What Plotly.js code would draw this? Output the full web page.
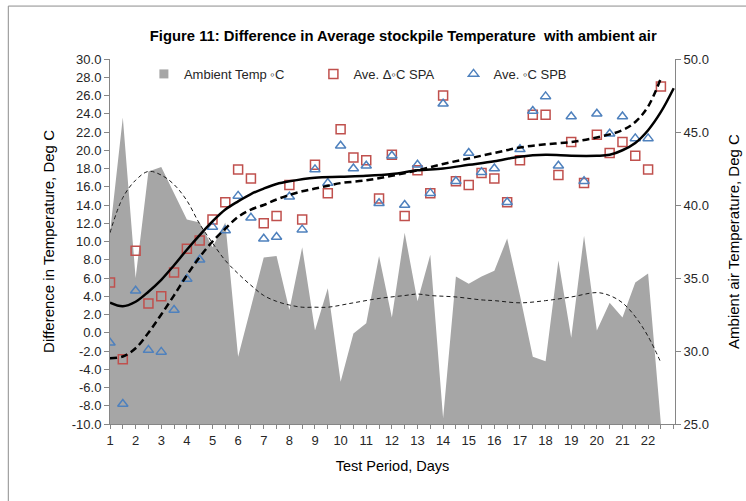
<!DOCTYPE html>
<html><head><meta charset="utf-8">
<script src="https://cdn.plot.ly/plotly-3.0.1.min.js"></script>
<style>html,body{margin:0;padding:0;background:#fff}#chart{width:746px;height:501px}</style>
</head><body><div id="chart"></div>
<script>
const days = [1,1.5,2,2.5,3,3.5,4,4.5,5,5.5,6,6.5,7,7.5,8,8.5,9,9.5,10,10.5,11,11.5,12,12.5,13,13.5,14,14.5,15,15.5,16,16.5,17,17.5,18,18.5,19,19.5,20,20.5,21,21.5,22,22.5];
const ambientTemp = [38.1,46.0,35.0,42.3,42.6,40.8,39.0,38.8,37.1,38.8,29.6,33.0,36.4,36.5,32.8,37.1,31.4,34.3,27.9,31.2,31.9,36.5,32.3,38.1,33.4,36.6,25.4,35.1,34.6,35.1,35.5,37.7,33.8,29.6,29.3,36.2,30.9,37.9,31.4,33.3,32.3,34.7,35.3,25.0];
const spa = [5.5,-2.9,9.0,3.2,4.0,6.6,9.2,10.1,12.4,14.3,17.9,16.9,12.0,12.8,16.2,12.4,18.4,15.3,22.3,19.2,18.9,14.7,19.5,12.8,17.8,15.3,26.0,16.6,16.2,17.5,16.9,14.3,18.9,23.9,23.9,17.3,20.9,16.4,21.7,19.7,20.9,19.4,17.9,27.0];
const spb = [-1.1,-7.8,4.6,-1.9,-2.1,2.5,5.9,8.0,11.6,11.2,15.0,12.6,10.3,10.5,14.9,11.3,17.9,16.4,20.5,18.0,18.3,14.2,19.4,14.0,18.4,15.3,25.1,16.6,19.7,17.6,18.0,14.3,20.1,24.3,25.9,18.3,23.7,16.6,24.0,21.8,23.7,21.3,21.3,null];

// trendlines
const trendSpaX = [1,1.5,2,2.5,3,3.5,4,4.5,5,5.5,6,6.5,7,7.5,8,9,10,11,12,13,14,15,16,17,18,19,20,20.5,21,21.5,22,22.5,23];
const trendSpaY = [3.3,2.9,3.4,4.5,5.8,7.4,9.1,10.7,12.2,13.5,14.4,15.2,15.8,16.3,16.6,17.0,17.1,17.2,17.4,17.8,18.0,18.4,18.8,19.3,19.5,19.4,19.4,19.5,20.0,20.8,22.2,24.2,26.8];
const trendSpbX = [1,1.5,2,2.5,3,3.5,4,4.5,5,5.5,6,6.5,7,7.5,8,8.5,9,9.5,10,11,12,13,14,15,16,17,18,19,20,21,21.5,22,22.5];
const trendSpbY = [-2.8,-2.6,-1.7,0.0,2.0,4.1,6.3,8.3,10.0,11.4,12.7,13.5,14.0,14.6,15.1,15.5,15.8,16.1,16.4,16.7,17.2,17.8,18.5,19.1,19.7,20.3,20.65,20.9,21.4,22.2,23.1,24.8,27.9];
const trendAmbX = [1,1.5,2,2.5,3,3.5,4,4.5,5,5.5,6,6.5,7,7.5,8,8.5,9,9.5,10.5,11.5,12.5,13,13.5,14.5,15.5,16,17,18,19,20,20.5,21,21.5,22,22.5];
const trendAmbY = [38.1,40.5,41.7,42.3,42.05,41.4,40.3,38.7,37.4,36.2,35.3,34.5,33.8,33.4,33.15,33.0,33.0,33.0,33.3,33.6,33.8,33.9,33.8,33.7,33.5,33.45,33.3,33.45,33.7,34.0,33.8,33.3,32.35,31.0,29.2];

const xTickVals = [1,2,3,4,5,6,7,8,9,10,11,12,13,14,15,16,17,18,19,20,21,22];
const xTickText = ['1','2','3','4','5','6','7','8','9','10','11','12','13','14','15','16','17','18','19','20','21','22'];
const leftTickVals = [-10,-8,-6,-4,-2,0,2,4,6,8,10,12,14,16,18,20,22,24,26,28,30];
const leftTickText = ['-10.0','-8.0','-6.0','-4.0','-2.0','0.0','2.0','4.0','6.0','8.0','10.0','12.0','14.0','16.0','18.0','20.0','22.0','24.0','26.0','28.0','30.0'];
const rightTickVals = [25,30,35,40,45,50];
const rightTickText = ['25.0','30.0','35.0','40.0','45.0','50.0'];

const FONT = 'Liberation Sans, Arial, sans-serif';
const axisGray = '#868686';

const traces = [
  {x: days, y: ambientTemp, yaxis: 'y', type: 'scatter', mode: 'lines', fill: 'tozeroy',
   fillcolor: '#a6a6a6', line: {width: 0, color: '#a6a6a6'}, showlegend: false, hoverinfo: 'skip'},
  {x: trendAmbX, y: trendAmbY, yaxis: 'y', type: 'scatter', mode: 'lines',
   line: {color: '#1a1a1a', width: 1, dash: '4px,3px', shape: 'spline'}, showlegend: false},
  {x: [null], y: [null], yaxis: 'y', type: 'scatter', mode: 'markers', name: 'Ambient Temp ◦C',
   marker: {symbol: 'square', size: 9, color: '#a6a6a6'}, legend: 'legend'},
  {x: days, y: spa, yaxis: 'y2', type: 'scatter', mode: 'markers', name: 'Ave. Δ◦C SPA',
   marker: {symbol: 'square-open', size: 9, color: '#c0504d', line: {width: 1.5, color: '#c0504d'}}, legend: 'legend2'},
  {x: days, y: spb, yaxis: 'y2', type: 'scatter', mode: 'markers', name: 'Ave. ◦C SPB',
   marker: {symbol: 'triangle-up-open', size: 9, color: '#4f81bd', line: {width: 1.5, color: '#4f81bd'}}, legend: 'legend3'},
  {x: trendSpaX, y: trendSpaY, yaxis: 'y2', type: 'scatter', mode: 'lines',
   line: {color: '#000', width: 2.5, shape: 'spline'}, showlegend: false},
  {x: trendSpbX, y: trendSpbY, yaxis: 'y2', type: 'scatter', mode: 'lines',
   line: {color: '#000', width: 2.5, dash: '7px,4px', shape: 'spline'}, showlegend: false}
];

const legendCommon = {orientation: 'h', yanchor: 'middle', y: 0.959, xanchor: 'left',
  bgcolor: 'rgba(0,0,0,0)', font: {family: FONT, size: 13, color: '#262626'}, itemwidth: 30};

const layout = {
  width: 746, height: 501,
  margin: {l: 110, r: 71, t: 59, b: 77},
  paper_bgcolor: '#fff', plot_bgcolor: '#fff',
  font: {family: FONT, size: 12, color: '#262626'},
  title: {text: 'Figure 11: Difference in Average stockpile Temperature  with ambient air',
    font: {family: FONT, size: 14.8, color: '#000', weight: 'bold'},
    x: 0.519, xref: 'paper', xanchor: 'center', y: 0.928, yref: 'container', yanchor: 'middle'},
  xaxis: {range: [1, 23.05], tickvals: xTickVals, ticktext: xTickText, ticks: 'outside', ticklen: 4,
    tickcolor: axisGray, showline: true, linecolor: axisGray, showgrid: false, zeroline: false,
    minor: {dtick: 0.5, tick0: 1, ticks: 'outside', ticklen: 4, tickcolor: axisGray, showgrid: false},
    tickfont: {size: 13}, title: {text: 'Test Period, Days', font: {size: 14.5, color: '#000'}, standoff: 14}},
  yaxis: {range: [25, 50], side: 'right', tickvals: rightTickVals, ticktext: rightTickText,
    ticks: 'outside', ticklen: 5, tickcolor: axisGray, showline: true, linecolor: axisGray,
    showgrid: false, zeroline: false, tickfont: {size: 13},
    title: {text: 'Ambient air Temperature, Deg C', font: {size: 15, color: '#000'}, standoff: 20}},
  yaxis2: {range: [-10, 30], side: 'left', overlaying: 'y', tickvals: leftTickVals, ticktext: leftTickText,
    ticks: 'outside', ticklen: 5, tickcolor: axisGray, showline: true, linecolor: axisGray,
    showgrid: false, zeroline: false, tickfont: {size: 13},
    title: {text: 'Difference in Temperature, Deg C', font: {size: 15, color: '#000'}, standoff: 13}},
  legend: Object.assign({}, legendCommon, {x: 0.06}),
  legend2: Object.assign({}, legendCommon, {x: 0.36}),
  legend3: Object.assign({}, legendCommon, {x: 0.608}),
  shapes: [{type: 'rect', xref: 'paper', yref: 'paper', x0: -0.18, x1: 1.15, y0: -0.25, y1: 1.145,
    line: {color: '#8c8c8c', width: 1}, fillcolor: 'rgba(0,0,0,0)', layer: 'below'}],
  showlegend: true
};

Plotly.newPlot('chart', traces, layout, {displayModeBar: false, staticPlot: true});
</script>
</body></html>
